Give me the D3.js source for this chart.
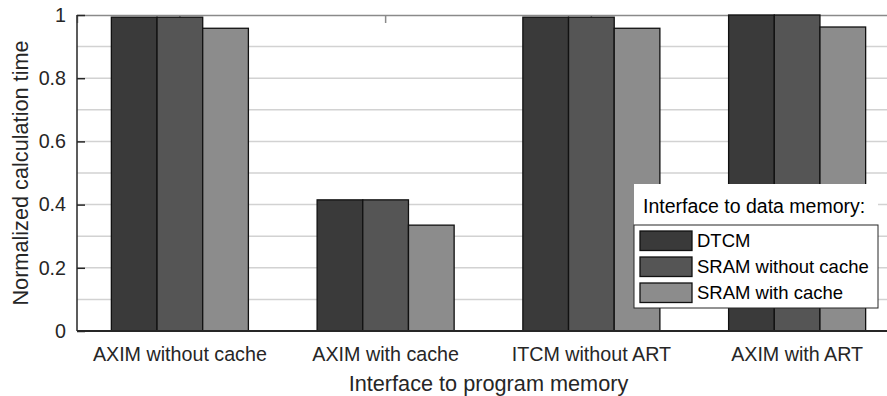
<!DOCTYPE html>
<html>
<head>
<meta charset="utf-8">
<script src="https://cdn.jsdelivr.net/npm/d3@7"></script>
<style>
  body { margin: 0; background: #fff; }
  svg { display: block; font-family: "Liberation Sans", Arial, sans-serif; }
</style>
</head>
<body>
<div id="chart"></div>
<script>
// data
const categories = ["AXIM without cache", "AXIM with cache", "ITCM without ART", "AXIM with ART"];
const seriesNames = ["DTCM", "SRAM without cache", "SRAM with cache"];
const dtcm = [0.993, 0.415, 0.993, 1.0];
const sramNoCache = [0.993, 0.415, 0.993, 1.0];
const sramCache = [0.958, 0.335, 0.958, 0.962];
const yTicks = [0, 0.2, 0.4, 0.6, 0.8, 1];
const yGrid = [0.1, 0.2, 0.3, 0.4, 0.5, 0.6, 0.7, 0.8, 0.9];

const colors = ["#3a3a3a", "#555555", "#8c8c8c"];
const values = [dtcm, sramNoCache, sramCache];

const width = 887, height = 396;
const margin = {top: 15, left: 77, bottom: 331, right: 900};
const ink = "#262626";

const svg = d3.select("#chart")
  .append("svg")
    .attr("width", width)
    .attr("height", height);

const x = d3.scaleBand()
  .domain(categories)
  .range([margin.left, margin.right])
  .paddingInner(0)
  .paddingOuter(0);

const groupW = x.bandwidth() * 0.666;
const xs = d3.scaleBand()
  .domain(seriesNames)
  .range([-groupW / 2, groupW / 2]);

const y = d3.scaleLinear()
  .domain([0, 1])
  .range([margin.bottom, margin.top]);

// grid lines
svg.append("g")
  .selectAll("line")
  .data(yGrid)
  .join("line")
    .attr("x1", margin.left)
    .attr("x2", margin.right)
    .attr("y1", d => y(d))
    .attr("y2", d => y(d))
    .attr("stroke", "#d2d2d2")
    .attr("stroke-width", 1.5);

// top border with ticks
svg.append("g")
  .attr("transform", `translate(0,${margin.top})`)
  .call(d3.axisTop(x).tickSize(-8).tickFormat(""))
  .call(g => g.selectAll("path, line").attr("stroke", "#8a8a8a").attr("stroke-width", 1.5));

// bars
const rows = categories.map((c, i) => ({cat: c, vals: seriesNames.map((s, j) => ({s, j, v: values[j][i]}))}));

svg.append("g")
  .selectAll("g")
  .data(rows)
  .join("g")
    .attr("transform", d => `translate(${x(d.cat) + x.bandwidth() / 2},0)`)
  .selectAll("rect")
  .data(d => d.vals)
  .join("rect")
    .attr("x", d => xs(d.s))
    .attr("width", xs.bandwidth())
    .attr("y", d => y(d.v))
    .attr("height", d => y(0) - y(d.v))
    .attr("fill", d => colors[d.j])
    .attr("stroke", "#111")
    .attr("stroke-width", 1.3);

// y axis
svg.append("g")
  .attr("transform", `translate(${margin.left},0)`)
  .call(d3.axisLeft(y).tickValues(yTicks).tickSize(-8).tickPadding(11)
    .tickFormat(d => d === 0 ? "0" : d === 1 ? "1" : d3.format(".1f")(d)))
  .call(g => g.selectAll("path, line").attr("stroke", ink).attr("stroke-width", 1.5))
  .call(g => g.select(".domain").attr("d", `M0,${margin.top}V${margin.bottom}`))
  .call(g => g.selectAll("text").attr("fill", ink).style("font-size", "19.7px"));

// x axis
svg.append("g")
  .attr("transform", `translate(0,${margin.bottom})`)
  .call(d3.axisBottom(x).tickSize(0).tickPadding(16))
  .call(g => g.select(".domain").attr("stroke", ink).attr("stroke-width", 2).attr("d", `M${margin.left},0H${margin.right}`))
  .call(g => g.selectAll("text").attr("fill", ink).style("font-size", "19.7px"));

// axis titles
svg.append("text")
  .attr("x", (margin.left + margin.right) / 2)
  .attr("y", 391)
  .attr("text-anchor", "middle")
  .attr("fill", ink)
  .style("font-size", "21.7px")
  .text("Interface to program memory");

svg.append("text")
  .attr("transform", `translate(28,${(margin.top + margin.bottom) / 2}) rotate(-90)`)
  .attr("text-anchor", "middle")
  .attr("fill", ink)
  .style("font-size", "21.7px")
  .text("Normalized calculation time");

// legend
const legend = svg.append("g").attr("transform", "translate(634,184)");
legend.append("rect")
  .attr("width", 244).attr("height", 124)
  .attr("fill", "#fff");
legend.append("text")
  .attr("x", 9).attr("y", 29)
  .attr("fill", "#000")
  .style("font-size", "19.5px")
  .text("Interface to data memory:");
legend.append("rect")
  .attr("y", 41).attr("width", 244).attr("height", 83)
  .attr("fill", "#fff")
  .attr("stroke", ink)
  .attr("stroke-width", 1);

const items = legend.selectAll("g.item")
  .data(seriesNames)
  .join("g")
    .attr("class", "item")
    .attr("transform", (d, i) => `translate(6,${47 + i * 26})`);
items.append("rect")
  .attr("width", 52).attr("height", 19.5)
  .attr("fill", (d, i) => colors[i])
  .attr("stroke", "#111")
  .attr("stroke-width", 1.3);
items.append("text")
  .attr("x", 57).attr("y", 16)
  .attr("fill", "#000")
  .style("font-size", "18.5px")
  .text(d => d);
</script>
</body>
</html>
